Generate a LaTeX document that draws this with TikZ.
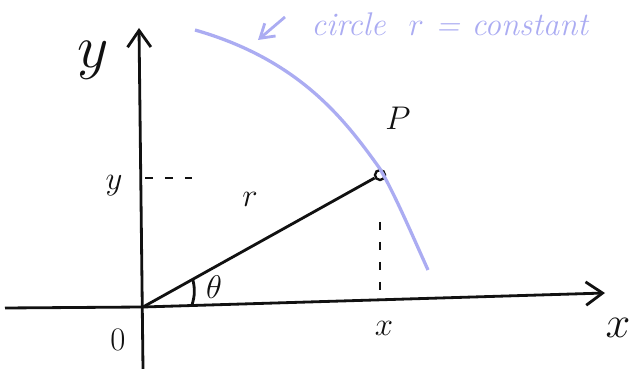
\documentclass[tikz,border=0pt]{standalone}
\usepackage{fix-cm}
\usepackage{amsmath}
\usetikzlibrary{arrows.meta, positioning, calc}
\definecolor{skInk}{HTML}{111111}
\definecolor{skBlue}{HTML}{ABACF2}
\tikzset{
  axis/.style={-{Straight Barb[length=5mm, width=7mm]}, line width=2.4pt, skInk},
  ray/.style={line width=2.4pt, skInk},
  guide/.style={line width=2.2pt, skInk, dash pattern=on 7pt off 10pt},
  arcline/.style={line width=2.8pt, skBlue},
  ptmark/.style={draw=skInk, circle, line width=2pt, inner sep=0pt, minimum size=3mm},
  lbl/.style={font=\fontsize{28}{30}\selectfont, text=skInk, inner sep=1pt},
  biglbl/.style={font=\fontsize{38}{40}\selectfont, text=skInk, inner sep=1pt},
  note/.style={font=\fontsize{28}{30}\selectfont\itshape, text=skBlue, inner sep=1pt}
}
\begin{document}
\begin{tikzpicture}[x=0.03cm, y=-0.03cm]
  \useasboundingbox (0,0) rectangle (633,369);
  % axes
  \coordinate (O) at (143,307);
  \coordinate (xl) at (5,308);
  \coordinate (xr) at (605,293);
  \coordinate (yb) at (143,369);
  \coordinate (yt) at (139,28);
  \draw[axis] (xl) -- (O) -- (xr);
  \draw[axis] (yb) -- (yt);
  % point P and radius
  \node[ptmark] (P) at (380,175) {};
  \draw[ray] (O) -- (P);
  \draw[ray] ($(O)!0.21!(P)$) coordinate (a1) to[bend left=15] (192,305);
  % projections
  \coordinate (yy) at (145,178);
  \coordinate (yy2) at (192,178);
  \coordinate (xx) at (380,222);
  \coordinate (xx2) at (380,290);
  \draw[guide] (yy) -- (yy2);
  \draw[guide] (xx) -- (xx2);
  % circle r = constant
  \draw[arcline] (195,30) .. controls (300,60) and (345,120) .. (P.north)
    .. controls (395,195) and (410,230) .. (428,270);
  \draw[-{Straight Barb[length=4mm, width=5mm]}, line width=2.4pt, skBlue] (285,17) -- (258,40);
  \node[note, anchor=west] (cap) at (310,24) {circle \ $r$ = constant};
  % labels
  \node[biglbl, font=\fontsize{52}{54}\selectfont] (ylab) at (93,60) {$y$};
  \node[biglbl] (xlab) at (618,328) {$x$};
  \node[lbl] (plab) at (398,118) {$P$};
  \node[lbl] (ytick) at (114,186) {$y$};
  \node[lbl] (xtick) at (384,328) {$x$};
  \node[lbl] (zero) at (118,340) {$0$};
  \node[lbl] (rlab) at (250,199) {$r$};
  \node[lbl] (tlab) at (214,287) {$\theta$};
\end{tikzpicture}
\end{document}
